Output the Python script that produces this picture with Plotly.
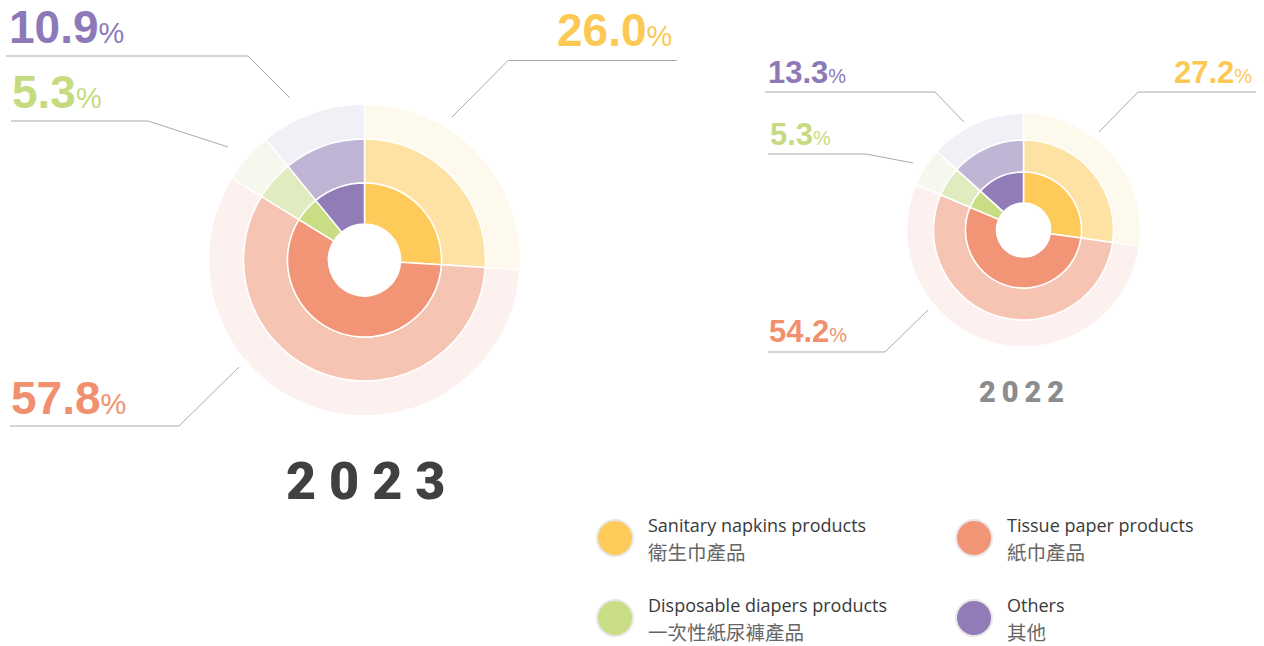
import plotly.graph_objects as go

W, H = 1264, 646

# ---- data ----
categories_en = ["Sanitary napkins products", "Tissue paper products",
                 "Disposable diapers products", "Others"]
categories_zh = ["衛生巾產品", "紙巾產品", "一次性紙尿褲產品", "其他"]
share_2023 = [26.0, 57.8, 5.3, 10.9]
share_2022 = [27.2, 54.2, 5.3, 13.3]
years = ["2023", "2022"]

# ---- styles ----
col_full = ["#FECB5A", "#F29577", "#C9DD84", "#917CB8"]
col_mid = ["#FEE2A4", "#F6C4B3", "#E0EBC0", "#C1B5D6"]
col_out = ["#FDF9EC", "#FCF1EE", "#F6F8EE", "#F2F0F7"]
col_text = ["#FDC955", "#F0906F", "#C6DB7F", "#8E79B8"]


def dom(cx, cy, r):
    return dict(x=[(cx - r) / W, (cx + r) / W], y=[1 - (cy + r) / H, 1 - (cy - r) / H])


fig = go.Figure()


def add_donut(values, cx, cy, radii):
    hole, r1, r2, r3 = radii
    rings = [(r3, r2, col_out), (r2, r1, col_mid), (r1, hole, col_full)]
    for rout, rin, cols in rings:
        fig.add_trace(go.Pie(
            labels=categories_en, values=values, sort=False, direction="clockwise",
            rotation=0, hole=rin / rout, domain=dom(cx, cy, rout),
            marker=dict(colors=cols, line=dict(color="white", width=1.5)),
            textinfo="none", hoverinfo="label+percent", showlegend=False))


add_donut(share_2023, 364.5, 260, (36, 77, 121, 156))
add_donut(share_2022, 1023.5, 230, (27, 58, 90, 117))

shapes = []
annotations = []
line_style = dict(color="#ABABAB", width=1)


def path(pts):
    return "M " + " L ".join(f"{x/W},{1 - y/H}" for x, y in pts)


def leader(pts):
    shapes.append(dict(type="path", xref="paper", yref="paper", path=path(pts), line=line_style))


def pct_label(idx, values, x, y, anchor, big, small):
    v = values[idx]
    annotations.append(dict(
        xref="paper", yref="paper", x=x / W, y=1 - y / H, xanchor=anchor, yanchor="middle",
        showarrow=False,
        text=f"<b>{v:.1f}</b><span style='font-size:{small}px'>%</span>",
        font=dict(family="Liberation Sans", size=big, color=col_text[idx])))


# 2023 labels & leader lines
pct_label(3, share_2023, 7, 27, "left", 46, 29)
leader([(6, 56), (248, 56), (290, 98)])
pct_label(2, share_2023, 10, 92.5, "left", 46, 29)
leader([(11, 121), (148, 121), (228, 147)])
pct_label(0, share_2023, 674, 30.5, "right", 46, 29)
leader([(677, 60.5), (508, 60.5), (452, 117)])
pct_label(1, share_2023, 9, 397.5, "left", 46, 29)
leader([(10, 426), (179, 426), (239, 367)])

# 2022 labels & leader lines
pct_label(3, share_2022, 766, 73, "left", 31, 20)
leader([(765, 92), (935, 92), (964, 122)])
pct_label(2, share_2022, 768, 135, "left", 31, 20)
leader([(768, 154), (866, 154), (913, 163)])
pct_label(0, share_2022, 1254, 73, "right", 31, 20)
leader([(1256, 92), (1138, 92), (1099, 132)])
pct_label(1, share_2022, 767, 331.5, "left", 31, 20)
leader([(768, 352), (885, 352), (928, 310)])

# year labels
annotations.append(dict(xref="paper", yref="paper", x=365 / W, y=1 - 482 / H,
                        xanchor="center", yanchor="middle", showarrow=False,
                        text=" ".join(years[0]),
                        font=dict(family="Roboto", size=52, weight=900, color="#3F4042")))
annotations.append(dict(xref="paper", yref="paper", x=1021 / W, y=1 - 392 / H,
                        xanchor="center", yanchor="middle", showarrow=False,
                        text="\u2009".join(years[1]),
                        font=dict(family="Roboto", size=29, weight=900, color="#8C8C8E")))

# legend
leg_pos = [(615, 538), (974, 538), (615, 618), (974, 618)]
for i, (cx, cy) in enumerate(leg_pos):
    r = 18
    shapes.append(dict(type="circle", xref="paper", yref="paper",
                       x0=(cx - r) / W, x1=(cx + r) / W, y0=1 - (cy + r) / H, y1=1 - (cy - r) / H,
                       fillcolor=col_full[i], line=dict(color="#E8E8E8", width=2)))
    annotations.append(dict(xref="paper", yref="paper", x=(cx + 31) / W, y=1 - (cy - 13.5) / H,
                            xanchor="left", yanchor="middle", showarrow=False,
                            text=categories_en[i],
                            font=dict(family="Open Sans", size=18, color="#3A3A3A")))
    annotations.append(dict(xref="paper", yref="paper", x=(cx + 31) / W, y=1 - (cy + 13.5) / H,
                            xanchor="left", yanchor="middle", showarrow=False,
                            text=categories_zh[i],
                            font=dict(family="Noto Sans CJK TC", size=19.5, color="#666666")))

fig.update_layout(width=W, height=H, margin=dict(l=0, r=0, t=0, b=0),
                  paper_bgcolor="white", plot_bgcolor="white",
                  shapes=shapes, annotations=annotations)

fig.write_html("out.html", config={"displayModeBar": False},
               post_script="document.body.style.margin='0';document.body.style.overflow='hidden';")
